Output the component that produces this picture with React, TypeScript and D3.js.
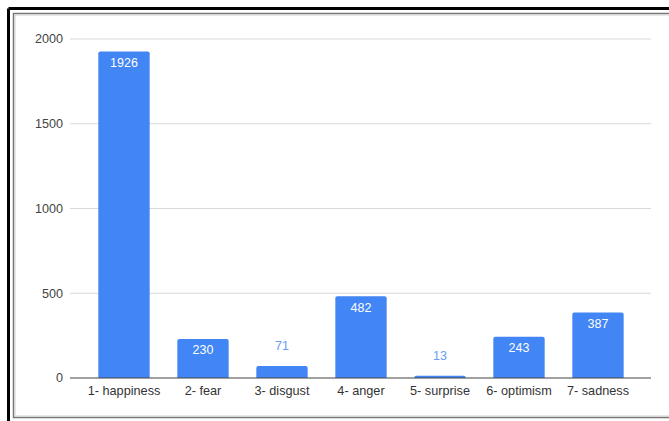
import React from "react";
import * as d3 from "d3";

const categories = ["1- happiness", "2- fear", "3- disgust", "4- anger", "5- surprise", "6- optimism", "7- sadness"];
const counts = [1926, 230, 71, 482, 13, 243, 387];
const yTicks = [0, 500, 1000, 1500, 2000];

const W = 669;
const H = 421;

export default function App() {
  const x = d3.scaleBand<string>().domain(categories).range([84.5, 637.5]).paddingInner(0.35).paddingOuter(0.175);
  const y = d3.scaleLinear().domain([0, 2000]).range([378, 39]);
  const gridX0 = 70;
  const gridX1 = 651;
  const font = "Arial, 'Liberation Sans', sans-serif";
  return (
    <svg width={W} height={H} style={{ position: "absolute", left: 0, top: 0, background: "#fff" }}>
      {/* frames */}
      <rect x={0} y={0} width={W} height={H} fill="#fff" />
      <line x1={8.5} y1={8.5} x2={W + 5} y2={8.5} stroke="#000" strokeWidth={3} />
      <line x1={8.5} y1={8.5} x2={8.5} y2={H + 5} stroke="#000" strokeWidth={3} />
      <rect x={13.5} y={13.5} width={W} height={404} fill="none" stroke="#777" strokeWidth={1.5} />
      <rect x={15} y={15} width={W} height={401} fill="none" stroke="#d0d0d0" strokeWidth={1} />
      {/* grid */}
      {yTicks.map((t) => (
        <g key={t}>
          {t !== 0 && (
            <line x1={gridX0} x2={gridX1} y1={y(t)} y2={y(t)} stroke="#d9d9d9" strokeWidth={1} />
          )}
          <text x={63} y={y(t)} dy="0.35em" textAnchor="end" fontFamily={font} fontSize={12.6} fill="#444">
            {t}
          </text>
        </g>
      ))}
      {/* bars */}
      {categories.map((c, i) => {
        const v = counts[i];
        const bx = x(c)!;
        const bw = x.bandwidth();
        const top = y(v);
        const h = y(0) - top;
        const inside = h > 24;
        return (
          <g key={c}>
            <path
              d={`M${bx},${y(0)} V${top + 2} Q${bx},${top} ${bx + 2},${top} H${bx + bw - 2} Q${bx + bw},${top} ${bx + bw},${top + 2} V${y(0)} Z`}
              fill="#4285f4"
            />
            <text
              x={bx + bw / 2}
              y={inside ? top + 11 : top - 20}
              dy="0.35em"
              textAnchor="middle"
              fontFamily={font}
              fontSize={12.5}
              fill={inside ? "#ffffff" : "#6a9cf5"}
            >
              {v}
            </text>
            <text
              x={bx + bw / 2}
              y={390.5}
              dy="0.35em"
              textAnchor="middle"
              fontFamily={font}
              fontSize={12.7}
              fill="#333"
            >
              {c}
            </text>
          </g>
        );
      })}
      <line x1={gridX0} x2={gridX1} y1={y(0)} y2={y(0)} stroke="#444" strokeWidth={1.2} />
    </svg>
  );
}
